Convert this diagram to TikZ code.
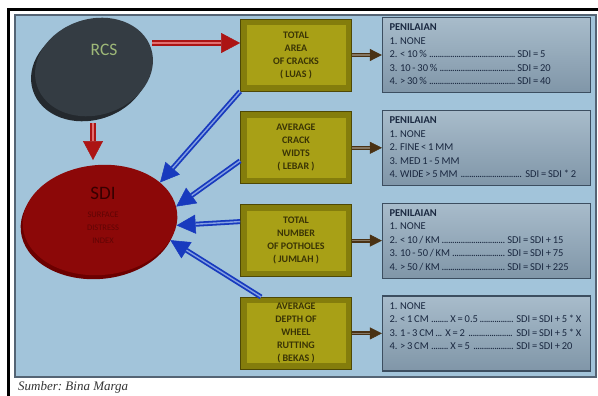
\documentclass[tikz,border=0pt]{standalone}
\usepackage{fontspec}
\setmainfont{Carlito}
\newfontfamily\sumberfont{Liberation Serif}
\usepackage{tikz}
\usetikzlibrary{positioning,calc,shadows,arrows.meta,shapes.geometric}

\definecolor{panelblue}{RGB}{162,196,218}
\definecolor{panelborder}{RGB}{84,100,116}
\definecolor{rcsgrey}{RGB}{52,60,67}
\definecolor{rcsdark}{RGB}{36,41,46}
\definecolor{rcsgreen}{RGB}{158,184,120}
\definecolor{sdired}{RGB}{140,8,8}
\definecolor{sdidark}{RGB}{108,0,0}
\definecolor{sditext}{RGB}{55,0,0}
\definecolor{sdismall}{RGB}{96,4,4}
\definecolor{olivebox}{RGB}{168,160,22}
\definecolor{olivedark}{RGB}{132,125,12}
\definecolor{oliveedge}{RGB}{78,72,5}
\definecolor{olivetext}{RGB}{58,52,5}
\definecolor{greytop}{RGB}{168,188,203}
\definecolor{greybot}{RGB}{128,150,168}
\definecolor{greyedge}{RGB}{60,78,96}
\definecolor{navytext}{RGB}{26,40,64}
\definecolor{arrowred}{RGB}{172,20,20}
\definecolor{arrowredlight}{RGB}{226,112,112}
\definecolor{arrowblue}{RGB}{24,58,190}
\definecolor{arrowbluelight}{RGB}{132,160,226}
\definecolor{arrowbrown}{RGB}{74,50,20}
\definecolor{arrowbrownlight}{RGB}{132,118,98}

\newcommand{\dotlead}{\leaders\hbox to 2.1pt{\hss.\hss}\hfill}
\newcommand{\upto}[2]{\makebox[#1][l]{#2 \dotlead\ }}
\newcommand{\scorelines}[1]{\parbox[c][62pt][t]{194pt}{\fontsize{10.5}{13.5}\selectfont\spaceskip=0.17em plus 0.04em minus 0.03em\relax #1}}

\tikzset{rcs blob/.style={ellipse,fill=rcsgrey,minimum width=120pt,minimum height=96pt,rotate=18,
		general shadow={fill=rcsdark,shadow xshift=-4pt,shadow yshift=-5pt}},
	sdi blob/.style={ellipse,fill=sdired,minimum width=155pt,minimum height=110pt,rotate=5,
		general shadow={fill=sdidark,shadow xshift=-2pt,shadow yshift=-4pt}},
	rcs text/.style={text=rcsgreen,font=\fontsize{17.5}{18}\selectfont},
	sdi text/.style={text=sditext,font=\fontsize{19}{20}\selectfont},
	sdi small/.style={text=sdismall,font=\fontsize{8.5}{13}\selectfont,align=center},
	crack box/.style={rectangle,fill=olivedark,draw=oliveedge,line width=0.8pt,inner sep=0pt,
		minimum width=111pt,minimum height=72pt,text=olivetext,align=center,
		font=\bfseries\fontsize{10}{13}\selectfont,
		path picture={\fill[olivebox] ([shift={(6pt,-6pt)}]path picture bounding box.north west)
			rectangle ([shift={(-6pt,6pt)}]path picture bounding box.south east);}},
	score box/.style={rectangle,top color=greytop,bottom color=greybot,draw=greyedge,line width=1.2pt,
		minimum width=208pt,minimum height=75pt,inner xsep=7pt,inner ysep=6pt,text=navytext},
	red arrow/.style={draw=arrowred,line width=6pt,-{Triangle[length=19pt,width=20pt,line width=0.5pt]},
		postaction={draw=arrowredlight,line width=1.6pt,-,shorten >=19pt}},
	blue arrow/.style={draw=arrowblue,line width=5pt,-{Triangle[length=19pt,width=19pt,line width=0.5pt]},
		postaction={draw=arrowbluelight,line width=1.4pt,-,shorten >=19pt}},
	brown arrow/.style={draw=arrowbrown,line width=4pt,-{Triangle[length=12pt,width=12pt,line width=0.5pt]},
		postaction={draw=arrowbrownlight,line width=1.6pt,-,shorten >=12pt}},
	sumber/.style={anchor=west,inner sep=0pt,text=black!80,font=\sumberfont\itshape\frenchspacing\fontsize{13}{14}\selectfont},
}

\begin{document}
\begin{tikzpicture}[x=1pt,y=-1pt]
			\useasboundingbox (0,0) rectangle (598,396);
			
			%% frame and panel
			\draw[line width=3pt] (8.5,396) -- (8.5,9.5) -- (598,9.5);
			\draw[panelborder,line width=2pt,fill=panelblue] (15,15) rectangle (596,377);
			\node[sumber] (sumber) at (18,387) {Sumber: Bina Marga};
			
			%% RCS and SDI
			\node[rcs blob] (rcs) at (94,67) {};
			\node[rcs text] (rcslabel) at (104,50) {RCS};
			\node[sdi blob] (sdi) at (100,220) {};
			\node[sdi text] (sdilabel) at (103,193) {SDI};
			\node[sdi small] (sdisub) at (103,228) {SURFACE\\DISTRESS\\INDEX};
			
			%% distress types
			\node[crack box] (luas) at (296,55) {TOTAL\\AREA\\OF CRACKS\\( LUAS )};
			\node[crack box] (lebar) [below = 20pt of luas] {AVERAGE\\CRACK\\WIDTS\\( LEBAR )};
			\node[crack box] (jumlah) [below = 20pt of lebar] {TOTAL\\NUMBER\\OF POTHOLES\\( JUMLAH )};
			\node[crack box] (bekas) [below = 20pt of jumlah] {AVERAGE\\DEPTH OF\\WHEEL\\RUTTING\\( BEKAS )};
			
			%% penilaian
			\node[score box] (pen1) [right = 30pt of luas] {\scorelines{\textbf{PENILAIAN}\\1. NONE\\
					\upto{128pt}{2. < 10 \%}SDI = 5\\
					\upto{128pt}{3. 10 - 30 \%}SDI = 20\\
					\upto{128pt}{4. > 30 \%}SDI = 40}};
			\node[score box] (pen2) [right = 30pt of lebar] {\scorelines{\textbf{PENILAIAN}\\1. NONE\\
					2. FINE < 1 MM\\
					3. MED 1 - 5 MM\\
					\upto{136pt}{4. WIDE > 5 MM}SDI = SDI * 2}};
			\node[score box] (pen3) [right = 30pt of jumlah] {\scorelines{\textbf{PENILAIAN}\\1. NONE\\
					\upto{118pt}{2. < 10 / KM}SDI = SDI + 15\\
					\upto{118pt}{3. 10 - 50 / KM}SDI = SDI + 75\\
					\upto{118pt}{4. > 50 / KM}SDI = SDI + 225}};
			\node[score box] (pen4) [right = 30pt of bekas] {\scorelines{1. NONE\\
					\upto{61pt}{2. < 1 CM}\upto{66pt}{X = 0.5}SDI = SDI + 5 * X\\
					\upto{56pt}{3. 1 - 3 CM}\upto{71pt}{X = 2}SDI = SDI + 5 * X\\
					\upto{61pt}{4. > 3 CM}\upto{66pt}{X = 5}SDI = SDI + 20}};
			
			\coordinate (rcsluas) at ([yshift=12pt]luas.west);
			\draw[red arrow] ($(rcs.center |- rcsluas)+(58,0)$) -- (rcsluas);
			\draw[red arrow] ($(rcs.center)+(-1,56)$) -- ($(rcs.center |- sdi.north)+(-1,-5)$);
			
			\draw[blue arrow] (luas.south west) -- (sdi.27);
			\draw[blue arrow] ([yshift=-13pt]lebar.west) -- (sdi.5);
			\draw[blue arrow] ([yshift=19pt]jumlah.west) -- (sdi.-9);
			\draw[blue arrow] ([xshift=21pt]bekas.north west) -- (sdi.-21);
			
			\draw[brown arrow] (luas) -- (pen1);
			\draw[brown arrow] (lebar) -- (pen2);
			\draw[brown arrow] (jumlah) -- (pen3);
			\draw[brown arrow] (bekas) -- (pen4);
			
\end{tikzpicture}
\end{document}
